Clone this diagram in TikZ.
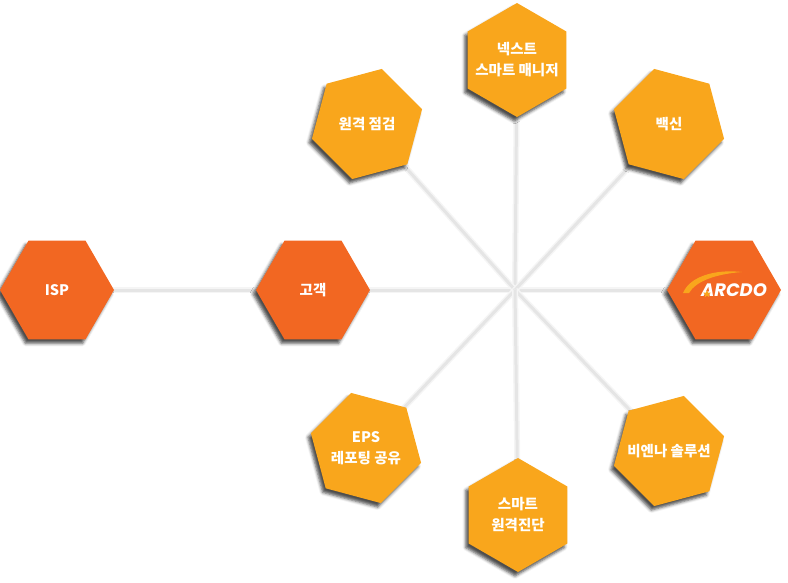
\documentclass[tikz,border=0pt]{standalone}
\usepackage{fontspec}
\newfontfamily\kr{Noto Sans CJK KR}
\newfontfamily\logofont{Poppins}
\usepackage{tikz}
\definecolor{hex-orange}{HTML}{F26722}
\definecolor{hex-yellow}{HTML}{F9A61C}
\usetikzlibrary{backgrounds, calc, shapes.geometric, shadows.blur}
\tikzset{
  hexa/.style={
    regular polygon, regular polygon sides=6, minimum size=114pt,
    inner sep=0pt,
    blur shadow={shadow xshift=-3pt, shadow yshift=-4pt,
      shadow blur radius=3pt, shadow opacity=70}
  },
  hexred/.style={hexa, fill=hex-orange},
  hexyel/.style={hexa, fill=hex-yellow},
  hextext/.style={
    align=center, text=white, inner sep=0pt,
    font=\kr\bfseries\fontsize{14.5}{21}\selectfont
  },
  spoke/.style={
    draw, color=black!10, line width=3pt,
    preaction={draw, color=black!4, line width=6pt}
  }
}

\begin{document}
\begin{tikzpicture}[x=1pt, y=-1pt]
        \useasboundingbox (0,0) rectangle (788,582);
        \coordinate (hub) at (515,290);

        \node[hexred, label={[hextext]center:ISP}] (isp) at (57,290) {};
        \node[hexred, label={[hextext]center:고객}] (cust) at (313,290) {};
        \node[hexred] (arcdo) at (724,290) {};
        \node[hexyel, shape border rotate=30, label={[hextext]center:넥스트\\스마트 매니저}] (next) at (517,60) {};
        \node[hexyel, shape border rotate=15, label={[hextext]center:원격 점검}] (remote) at (367,124) {};
        \node[hexyel, shape border rotate=-15, label={[hextext]center:백신}] (vaccine) at (669,124) {};
        \node[hexyel, shape border rotate=-15, label={[hextext]center:EPS\\레포팅 공유}] (eps) at (366,448) {};
        \node[hexyel, shape border rotate=15, label={[hextext]center:비엔나 솔루션}] (vienna) at (669,451) {};
        \node[hexyel, shape border rotate=30, label={[hextext]center:스마트\\원격진단}] (diag) at (518,515) {};

        \fill[hex-yellow] (683,293) .. controls (690,276) and (716,269) .. (742,272)
          .. controls (716,274) and (696,281) .. (689,293) -- cycle;
        \node[font=\logofont\bfseries\itshape\fontsize{18}{18}\selectfont, text=white, inner sep=0pt]
          (logo) at (734,290) {ARCDO};
        \node[star, star points=5, star point ratio=2.3, fill=hex-yellow, inner sep=0pt,
          minimum size=8pt] (logostar) at (707,294) {};

        \begin{scope}[on background layer]
          \draw[spoke] (isp.center) -- (cust.center);
          \foreach \n in {cust, arcdo, next, remote, vaccine, eps, vienna, diag}
            \draw[spoke] (hub) -- (\n.center);
        \end{scope}
      \end{tikzpicture}
\end{document}
